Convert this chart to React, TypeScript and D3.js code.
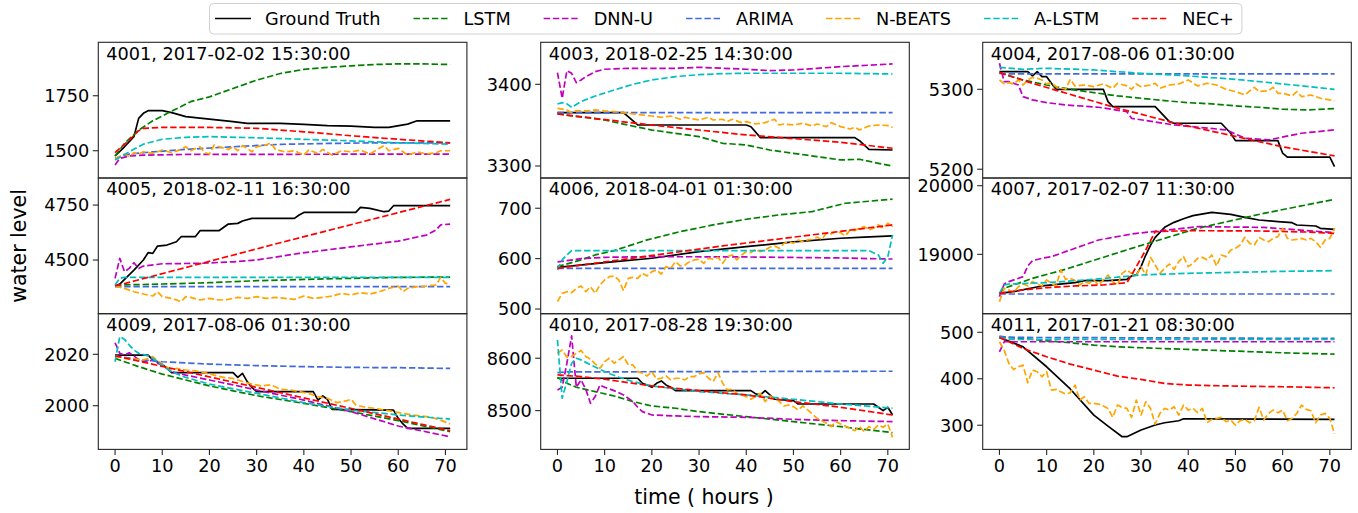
import React, { useMemo } from 'react';
import * as d3 from 'd3';

type Pt = [number, number];
type PanelData = Record<string, Pt[]>;

// x axis ticks shared by all panels (hours)
const hourTicks = [0, 10, 20, 30, 40, 50, 60, 70];

// ---- series, [hour, water level] ----
const p4001: PanelData = {
  truth: [[0, 1476], [2, 1518], [4, 1564], [5, 1647], [6, 1670], [7, 1682], [10, 1682], [12, 1673], [15, 1655], [20, 1644], [25, 1632], [28, 1624], [35, 1624], [40, 1620], [45, 1614], [50, 1612], [55, 1606], [58, 1606], [62, 1621], [64, 1636], [71, 1636]],
  lstm: [[0, 1476], [2, 1533], [5, 1594], [8, 1636], [12, 1680], [16, 1723], [20, 1745], [25, 1783], [30, 1821], [35, 1851], [40, 1870], [45, 1879], [50, 1886], [55, 1892], [60, 1895], [65, 1895], [71, 1892]],
  dnnu: [[0, 1435], [1, 1465], [3, 1476], [6, 1480], [15, 1483], [71, 1485]],
  arima: [[0, 1465], [3, 1485], [8, 1495], [15, 1506], [25, 1518], [35, 1529], [45, 1533], [55, 1536], [71, 1536]],
  nbeats: [[0, 1465], [2, 1485], [3, 1473], [4, 1491], [5, 1485], [6, 1495], [8, 1488], [10, 1503], [12, 1491], [14, 1506], [15, 1518], [16, 1500], [18, 1518], [19, 1491], [20, 1485], [21, 1526], [22, 1518], [24, 1506], [25, 1518], [26, 1500], [27, 1523], [28, 1511], [29, 1495], [30, 1518], [32, 1526], [33, 1536], [34, 1506], [36, 1495], [38, 1500], [40, 1480], [41, 1503], [43, 1488], [44, 1506], [46, 1480], [48, 1500], [50, 1495], [52, 1503], [54, 1485], [56, 1511], [57, 1523], [58, 1500], [60, 1511], [62, 1480], [64, 1495], [66, 1485], [68, 1491], [69, 1500], [71, 1500]],
  alstm: [[0, 1458], [3, 1495], [6, 1530], [10, 1552], [15, 1561], [20, 1564], [30, 1559], [40, 1552], [50, 1545], [60, 1536], [71, 1530]],
  nec: [[0, 1491], [3, 1548], [5, 1591], [6, 1602], [10, 1606], [20, 1606], [30, 1602], [40, 1586], [50, 1568], [60, 1552], [71, 1536]],
};

const p4003: PanelData = {
  truth: [[0, 3365.3], [14, 3365.3], [17, 3350.2], [40, 3350.2], [41, 3348], [43, 3334.7], [63, 3334.7], [64, 3331], [66, 3320.4], [71, 3319.6]],
  lstm: [[0, 3363.7], [10, 3356.3], [15, 3350], [20, 3344], [30, 3336], [35, 3327.8], [40, 3325.7], [45, 3319.6], [50, 3315.5], [55, 3311.5], [60, 3307.4], [64, 3308.2], [68, 3303.3], [71, 3300]],
  dnnu: [[0, 3414.3], [1, 3382.9], [2, 3416.7], [3, 3413.5], [4, 3402], [5, 3405.3], [6, 3409.4], [8, 3415.5], [10, 3418.4], [15, 3419.6], [25, 3419.6], [30, 3420.8], [40, 3418.4], [45, 3416.7], [50, 3417.5], [55, 3419.6], [60, 3421.6], [71, 3424.9]],
  arima: [[0, 3365.3], [71, 3365.3]],
  nbeats: [[0, 3370.6], [2, 3368.6], [3, 3365.3], [4, 3367.8], [6, 3367.4], [8, 3368.6], [10, 3367.4], [12, 3366.5], [14, 3365.3], [16, 3363.7], [18, 3362.5], [20, 3361.2], [22, 3359.6], [24, 3361.2], [26, 3357.2], [27, 3359.6], [28, 3358.4], [30, 3356.3], [32, 3359.6], [33, 3356.3], [35, 3357.2], [36, 3354.3], [37, 3357.2], [39, 3353.1], [40, 3354.3], [42, 3351.4], [44, 3353.1], [46, 3357.2], [47, 3350.2], [48, 3351.4], [50, 3350.2], [52, 3352.3], [54, 3349], [55, 3351.4], [57, 3348.2], [58, 3353.1], [60, 3348.2], [62, 3345.3], [63, 3347.4], [64, 3344.1], [66, 3349], [68, 3350.2], [70, 3349.4], [71, 3347.4]],
  alstm: [[0, 3375.9], [1, 3377.6], [2, 3376], [3, 3371.8], [5, 3378.8], [8, 3385.7], [12, 3393], [16, 3400], [20, 3405.3], [25, 3409.4], [30, 3411.8], [35, 3413], [40, 3413.5], [50, 3413.5], [60, 3413.5], [71, 3412.6]],
  nec: [[0, 3363.7], [20, 3350], [40, 3338], [60, 3329], [71, 3321.7]],
};

const p4004: PanelData = {
  truth: [[0, 5322], [6, 5322], [7, 5316.7], [8, 5322], [9, 5315.8], [10, 5315.8], [11, 5307.5], [12, 5300], [22, 5300], [23, 5284.6], [24, 5278.3], [33, 5278.3], [36, 5259.6], [37, 5257.5], [47, 5257.5], [49, 5245], [50, 5235.8], [59, 5235.8], [60, 5220], [61, 5215], [70, 5215], [71, 5203.3]],
  lstm: [[0, 5320.8], [5, 5311.7], [10, 5305.4], [15, 5300], [20, 5295.8], [25, 5291.7], [30, 5288.8], [35, 5285.8], [40, 5283.3], [45, 5281.7], [50, 5279.2], [55, 5277.5], [60, 5275], [65, 5274.2], [71, 5275.8]],
  dnnu: [[0, 5332.5], [1, 5309.6], [2, 5309.6], [4, 5305.4], [5, 5290.8], [7, 5286.7], [10, 5283.3], [14, 5280.4], [21, 5277.5], [27, 5272], [28, 5263.7], [37, 5255.4], [48, 5249.2], [52, 5238.8], [57, 5236.7], [64, 5245], [71, 5249.2]],
  arima: [[0, 5320], [2, 5319.2], [71, 5319.2]],
  nbeats: [[0, 5311.7], [1, 5306.7], [2, 5308.3], [3, 5306.7], [4, 5311.7], [5, 5305.4], [6, 5311.7], [7, 5315], [8, 5313.8], [9, 5311.7], [10, 5306.7], [11, 5308.3], [12, 5303.3], [14, 5300], [15, 5312.5], [16, 5304.2], [18, 5305.4], [20, 5303.3], [22, 5306.7], [24, 5301.3], [25, 5307.5], [27, 5304.2], [28, 5300], [29, 5306.7], [30, 5303.3], [32, 5305.4], [33, 5307.5], [34, 5301.3], [36, 5305.4], [38, 5306.7], [40, 5311.7], [42, 5304.2], [44, 5307.5], [46, 5305.4], [48, 5300], [50, 5297.1], [52, 5292.9], [54, 5302.5], [55, 5297.1], [57, 5298.3], [58, 5302.5], [59, 5295], [60, 5295], [62, 5291.7], [63, 5297.1], [64, 5290.8], [66, 5292.9], [68, 5288.8], [70, 5286.7], [71, 5285.8]],
  alstm: [[0, 5327.5], [5, 5325], [10, 5326.3], [20, 5324.2], [30, 5320], [40, 5316.7], [50, 5312.5], [60, 5306.7], [71, 5300]],
  nec: [[0, 5320.8], [7, 5307.5], [24, 5278], [37, 5258], [50, 5241], [60, 5228], [71, 5216.7]],
};

const p4005: PanelData = {
  truth: [[0, 4381.8], [1, 4390.9], [4, 4454.5], [6, 4500], [7, 4533.3], [8, 4530.3], [9, 4563.6], [11, 4568.2], [13, 4583.3], [14, 4606], [17, 4606], [18, 4633.3], [22, 4633.3], [24, 4663.6], [26, 4666.7], [27, 4677.3], [29, 4689.4], [38, 4689.4], [39, 4704.5], [40, 4716.6], [51, 4716.6], [52, 4739.4], [54, 4734.8], [57, 4719.7], [58, 4722.7], [59, 4747], [71, 4747]],
  lstm: [[0, 4381.8], [1, 4386.4], [10, 4391], [20, 4397], [30, 4406], [40, 4412], [50, 4416.7], [60, 4421.2], [71, 4422.7]],
  dnnu: [[0, 4416.7], [1, 4507.6], [2, 4447], [3, 4462], [4, 4488], [5, 4462], [6, 4472.7], [10, 4483], [18, 4485], [25, 4492], [30, 4500], [39, 4530], [53, 4568], [60, 4586], [66, 4613.6], [68, 4636], [69, 4660], [71, 4663.6]],
  arima: [[0, 4378.8], [71, 4378.8]],
  nbeats: [[0, 4381.8], [2, 4371], [4, 4356], [6, 4345.5], [8, 4336.4], [9, 4356], [10, 4333.3], [12, 4325.8], [14, 4310.6], [15, 4333.3], [16, 4330.3], [18, 4318.2], [20, 4325.8], [22, 4318.2], [24, 4321.2], [26, 4330.3], [28, 4325.8], [30, 4333.3], [32, 4325.8], [34, 4330.3], [36, 4325.8], [38, 4321.2], [40, 4336.4], [42, 4325.8], [44, 4330.3], [46, 4336.4], [48, 4348.5], [50, 4341], [52, 4351.5], [54, 4345.5], [56, 4356], [58, 4371], [60, 4381.8], [61, 4356], [62, 4371], [64, 4378.8], [66, 4381.8], [68, 4386.4], [69, 4421.2], [70, 4393.9], [71, 4390.9]],
  alstm: [[0, 4386.4], [1, 4416.7], [2, 4421.2], [71, 4421.2]],
  nec: [[0, 4381.8], [35, 4578.7], [71, 4775.7]],
};

const p4006: PanelData = {
  truth: [[0, 582.8], [10, 592], [20, 600.7], [30, 614], [40, 623.8], [50, 633.1], [60, 640.4], [65, 642.6], [71, 645]],
  lstm: [[0, 584.1], [5, 597.4], [8, 607.3], [12, 615.9], [19, 637.1], [26, 653.6], [33, 666.9], [40, 678.2], [47, 686.8], [54, 693.4], [61, 709.9], [71, 717.9]],
  dnnu: [[0, 593.4], [2, 596], [5, 600], [10, 602.6], [20, 604], [40, 603.3], [60, 601.3], [70, 599.3], [71, 599.3]],
  arima: [[0, 580.8], [71, 580.8]],
  nbeats: [[0, 514.6], [1, 531.1], [2, 534.4], [3, 532.4], [4, 541.1], [5, 545.7], [6, 534.4], [7, 544.4], [8, 531.1], [9, 547.7], [10, 557.6], [11, 564.2], [12, 565.6], [13, 557.6], [14, 536.4], [15, 560.9], [16, 562.9], [17, 560.9], [18, 570.9], [19, 565.6], [20, 574.2], [21, 577.5], [22, 569.5], [23, 584.1], [24, 580.8], [25, 594], [26, 585.4], [27, 587.4], [28, 594], [29, 597.4], [30, 598.7], [31, 590.7], [32, 600.7], [33, 598.7], [34, 602.6], [35, 590.7], [36, 604], [37, 607.3], [38, 597.4], [39, 607.3], [40, 613.9], [41, 611.9], [42, 618.5], [43, 613.9], [44, 617.2], [45, 622.5], [46, 625.2], [47, 620.5], [48, 630.5], [49, 633.8], [50, 630.5], [51, 637.1], [52, 633.8], [53, 637.1], [54, 638.4], [55, 642.4], [56, 638.4], [57, 650.3], [58, 649], [59, 653.6], [60, 651.7], [61, 645], [62, 657], [63, 655.6], [64, 660.3], [65, 663.6], [66, 657], [67, 660.3], [68, 666.9], [69, 660.3], [70, 670.2], [71, 663.6]],
  alstm: [[0, 577.5], [1, 597.4], [2, 607.3], [3, 615.9], [66, 615.9], [68, 607.3], [69, 590.7], [70, 603.9], [71, 647]],
  nec: [[0, 580.8], [35, 625.2], [71, 666.9]],
};

const p4007: PanelData = {
  truth: [[0, 18432], [3, 18456], [9, 18539], [16, 18587], [18, 18617], [23, 18617], [27, 18636], [28, 18684], [29, 18700], [30, 18820], [31, 18990], [32, 19130], [33, 19248], [35, 19393], [37, 19466], [39, 19519], [41, 19563], [45, 19612], [47, 19597], [49, 19582], [52, 19539], [55, 19500], [59, 19476], [62, 19461], [63, 19427], [67, 19413], [68, 19379], [71, 19364]],
  lstm: [[0, 18432], [1, 18505], [7, 18650], [14, 18782], [28, 19087], [42, 19379], [56, 19597], [71, 19801]],
  dnnu: [[0, 18384], [1, 18568], [2, 18602], [5, 18675], [6, 18830], [7, 18908], [9, 18942], [11, 18966], [21, 19209], [28, 19296], [42, 19403], [56, 19393], [71, 19316]],
  arima: [[0, 18422], [71, 18422]],
  nbeats: [[0, 18311], [1, 18505], [2, 18481], [3, 18442], [4, 18529], [5, 18568], [6, 18539], [7, 18602], [8, 18568], [9, 18539], [10, 18626], [11, 18578], [12, 18539], [13, 18772], [14, 18636], [15, 18650], [16, 18617], [17, 18553], [18, 18602], [19, 18578], [20, 18626], [21, 18553], [22, 18626], [23, 18699], [24, 18602], [25, 18553], [26, 18723], [27, 18772], [28, 18723], [29, 18699], [30, 18820], [31, 18699], [32, 18956], [33, 18845], [34, 18723], [35, 18796], [36, 18859], [37, 18782], [38, 18893], [39, 18966], [40, 18820], [41, 18869], [42, 18942], [43, 18956], [44, 18917], [45, 18990], [46, 18830], [47, 18990], [48, 18966], [49, 19063], [50, 19087], [51, 19136], [52, 19248], [53, 19160], [54, 19136], [55, 19248], [56, 19209], [57, 19184], [58, 19233], [59, 19257], [60, 19379], [61, 19233], [62, 19209], [63, 19218], [64, 19233], [65, 19209], [66, 19233], [67, 19184], [68, 19102], [69, 19209], [70, 19233], [71, 19379]],
  alstm: [[0, 18432], [1, 18553], [2, 18568], [10, 18587], [20, 18636], [30, 18699], [40, 18723], [50, 18738], [60, 18752], [71, 18762]],
  nec: [[0, 18432], [5, 18481], [10, 18515], [16, 18539], [22, 18553], [27, 18587], [28, 18699], [31, 19063], [33, 19330], [40, 19345], [55, 19340], [65, 19325], [71, 19306]],
};

const p4009: PanelData = {
  truth: [[0, 2019.7], [7, 2019.7], [8, 2017.8], [10, 2016.2], [12, 2012.9], [25, 2012.9], [26, 2011], [27, 2012.6], [28, 2009.4], [29, 2007.1], [30, 2005.5], [42, 2005.5], [43, 2002.2], [44, 2003.8], [45, 2002.5], [46, 1998.6], [59, 1998.3], [60, 1995.1], [61, 1992.9], [62, 1991.2], [71, 1991.2]],
  lstm: [[0, 2018.4], [5, 2015.2], [10, 2012.3], [15, 2010], [20, 2007.7], [25, 2005.8], [30, 2003.9], [40, 2000.9], [50, 1997.7], [60, 1994.2], [71, 1989.9]],
  dnnu: [[0, 2024.5], [1, 2020.4], [2, 2019.7], [3, 2020.6], [4, 2019.4], [5, 2017.8], [7, 2016.8], [8, 2018.1], [9, 2016.5], [10, 2015.8], [12, 2013.2], [15, 2011.9], [20, 2010], [25, 2008.1], [30, 2006.1], [40, 2002.2], [50, 1997.7], [60, 1992.1], [71, 1987.9]],
  arima: [[0, 2019.4], [5, 2018], [10, 2017.1], [20, 2016.2], [30, 2015.6], [40, 2015.2], [50, 2014.9], [60, 2014.8], [71, 2014.5]],
  nbeats: [[0, 2019.4], [2, 2018.4], [4, 2018.1], [6, 2017.8], [8, 2019.1], [9, 2017.5], [10, 2016.2], [12, 2013.9], [13, 2014.5], [15, 2013.9], [17, 2013.6], [19, 2012.9], [21, 2011.9], [23, 2011], [25, 2010.6], [27, 2009.4], [29, 2008.4], [31, 2007.7], [33, 2008.1], [35, 2006.4], [37, 2006.1], [39, 2005.5], [41, 2004.8], [43, 2003.5], [45, 2002.9], [47, 2001.2], [49, 2001.9], [50, 2002.5], [51, 2000.3], [53, 1999.4], [55, 1999], [57, 1998.3], [59, 1997.7], [61, 1997], [63, 1996.4], [65, 1996], [67, 1995.5], [69, 1994.4], [71, 1992.9]],
  alstm: [[0, 2017.1], [1, 2026.9], [2, 2025.8], [3, 2023.6], [4, 2021.7], [5, 2020.4], [7, 2019.4], [8, 2018.4], [10, 2015.8], [12, 2013.2], [15, 2011], [20, 2008.4], [30, 2004.8], [40, 2001.2], [50, 1998.3], [60, 1996.4], [71, 1994.8]],
  nec: [[0, 2019.4], [35, 2005.1], [71, 1990.3]],
};

const p4010: PanelData = {
  truth: [[0, 8561.8], [17, 8561.8], [18, 8552.2], [19, 8549], [20, 8544.6], [21, 8552.2], [22, 8556.7], [23, 8549], [24, 8544.6], [25, 8538.2], [41, 8538.2], [42, 8531.9], [43, 8529.9], [44, 8538.2], [45, 8529.9], [46, 8521.7], [50, 8519], [51, 8512.7], [67, 8512.7], [68, 8506.4], [69, 8500], [70, 8506.4], [71, 8491.7]],
  lstm: [[0, 8563.7], [2, 8552.2], [4, 8544.6], [8, 8536.3], [12, 8528], [16, 8517.2], [20, 8508.9], [25, 8504.5], [30, 8498.1], [40, 8488.5], [50, 8479], [60, 8469.4], [71, 8458]],
  dnnu: [[0, 8539.5], [1, 8544.6], [2, 8590.5], [3, 8642.7], [4, 8544.6], [5, 8558.6], [6, 8540.8], [7, 8514], [8, 8526.8], [9, 8549], [10, 8544.6], [12, 8538.2], [14, 8529.9], [16, 8517.2], [17, 8506.4], [18, 8498.1], [20, 8491.7], [25, 8489.8], [30, 8488.5], [40, 8487.3], [50, 8483.4], [60, 8480.9], [71, 8479]],
  arima: [[0, 8572.6], [2, 8573.9], [71, 8575.2]],
  nbeats: [[0, 8609.6], [1, 8615.9], [2, 8601.9], [3, 8603.2], [4, 8609.6], [5, 8614.7], [6, 8603.2], [7, 8598.1], [8, 8589.2], [9, 8580.9], [10, 8593.6], [11, 8600], [12, 8590.5], [13, 8596.8], [14, 8603.2], [15, 8587.3], [16, 8587.3], [17, 8574.5], [18, 8571.3], [19, 8566.2], [20, 8574.5], [21, 8559.9], [22, 8561.8], [23, 8566.2], [24, 8558.6], [25, 8561.8], [26, 8561.8], [27, 8558.6], [28, 8565], [29, 8565], [30, 8570.1], [31, 8572.6], [32, 8561.8], [33, 8555.4], [34, 8572.6], [35, 8552.2], [36, 8539.5], [37, 8540.8], [38, 8533.1], [39, 8529.9], [40, 8526.8], [41, 8521.7], [42, 8526.8], [43, 8533.1], [44, 8517.2], [45, 8528], [46, 8523.6], [47, 8517.2], [48, 8508.9], [49, 8510.8], [50, 8507.6], [51, 8501.3], [52, 8508.9], [53, 8501.3], [54, 8493.6], [55, 8485.3], [56, 8480.9], [57, 8475.8], [58, 8469.4], [59, 8479], [60, 8474.5], [61, 8470.7], [62, 8466.2], [63, 8461.8], [64, 8469.4], [65, 8459.9], [66, 8469.4], [67, 8464.3], [68, 8472.6], [69, 8468.2], [70, 8474.5], [71, 8449]],
  alstm: [[0, 8635], [1, 8523.6], [2, 8555.4], [3, 8590.5], [4, 8600], [5, 8596.8], [7, 8587.3], [10, 8574.5], [13, 8563.7], [16, 8555.4], [20, 8547.1], [30, 8536.3], [40, 8529.9], [50, 8521.7], [60, 8512.7], [71, 8504.5]],
  nec: [[0, 8568.2], [5, 8565], [10, 8559.9], [20, 8547.1], [30, 8538.2], [40, 8529.9], [50, 8517.2], [60, 8506.4], [71, 8491.7]],
};

const p4011: PanelData = {
  truth: [[0, 488.9], [5, 468.8], [10, 425.8], [15, 378], [20, 321.9], [23, 298.2], [26, 275.3], [27, 275.3], [30, 289.6], [33, 300.4], [35, 305.4], [38, 309.7], [39, 314], [71, 312.5]],
  lstm: [[0, 490.3], [5, 486.7], [10, 481.7], [15, 477.4], [20, 472.4], [25, 468.8], [30, 466.7], [40, 463.1], [50, 459.5], [60, 455.9], [71, 453]],
  dnnu: [[0, 458], [1, 479.6], [71, 479.6]],
  arima: [[0, 491.7], [2, 489], [71, 486.7]],
  nbeats: [[0, 479.6], [1, 461.6], [2, 433], [3, 420.1], [4, 425.8], [5, 429.4], [6, 391.4], [7, 418.6], [8, 415.1], [9, 404.3], [10, 415.1], [11, 375.6], [12, 377.1], [13, 372], [14, 367], [15, 369.9], [16, 386.4], [17, 354.1], [18, 361.3], [19, 347], [20, 347], [21, 345.5], [22, 341.2], [23, 336.2], [24, 316.9], [25, 343.4], [26, 338.4], [27, 336.2], [28, 316.9], [29, 354.1], [30, 321.9], [31, 350.5], [32, 336.2], [33, 302.5], [34, 325.5], [35, 336.2], [36, 332.6], [37, 339.8], [38, 321.9], [39, 343.4], [40, 332.6], [41, 336.2], [42, 326.9], [43, 336.2], [44, 305.4], [45, 312.5], [46, 314.7], [47, 316.9], [48, 307.5], [49, 311.1], [50, 300.4], [51, 309.7], [52, 312.5], [53, 305.4], [54, 309.7], [55, 338.4], [56, 311.1], [57, 325.5], [58, 332.6], [59, 326.9], [60, 332.6], [61, 309.7], [62, 314.7], [63, 325.5], [64, 343.4], [65, 334.1], [66, 331.2], [67, 305.4], [68, 321.9], [69, 325.5], [70, 314.7], [71, 281]],
  alstm: [[0, 488.9], [2, 484.6], [71, 484.6]],
  nec: [[0, 488.9], [2, 479.6], [5, 465.2], [10, 447.3], [15, 431.5], [20, 418.6], [25, 405.7], [30, 398.6], [35, 390], [40, 386.4], [50, 384.2], [60, 382.8], [71, 380.6]],
};

// panel titles, y limits and y ticks (row-major, 3 columns)
const panels = [
  { title: '4001, 2017-02-02 15:30:00', yDomain: [1376, 1993], yTicks: [1500, 1750], data: p4001 },
  { title: '4003, 2018-02-25 14:30:00', yDomain: [3285.3, 3451.4], yTicks: [3300, 3400], data: p4003 },
  { title: '4004, 2017-08-06 01:30:00', yDomain: [5189, 5358.8], yTicks: [5200, 5300], data: p4004 },
  { title: '4005, 2018-02-11 16:30:00', yDomain: [4256, 4873], yTicks: [4500, 4750], data: p4005 },
  { title: '4006, 2018-04-01 01:30:00', yDomain: [490.7, 760], yTicks: [500, 600, 700], data: p4006 },
  { title: '4007, 2017-02-07 11:30:00', yDomain: [18135, 20112], yTicks: [19000, 20000], data: p4007 },
  { title: '4009, 2017-08-06 01:30:00', yDomain: [1983, 2035.8], yTicks: [2000, 2020], data: p4009 },
  { title: '4010, 2017-08-28 19:30:00', yDomain: [8426, 8685], yTicks: [8500, 8600], data: p4010 },
  { title: '4011, 2017-01-21 08:30:00', yDomain: [248, 540], yTicks: [300, 400, 500], data: p4011 },
];

// series order = drawing order = legend order
const series = [
  { key: 'truth', name: 'Ground Truth', color: '#000000', dashed: false },
  { key: 'lstm', name: 'LSTM', color: '#008000', dashed: true },
  { key: 'dnnu', name: 'DNN-U', color: '#bf00bf', dashed: true },
  { key: 'arima', name: 'ARIMA', color: '#4169e1', dashed: true },
  { key: 'nbeats', name: 'N-BEATS', color: '#ffa500', dashed: true },
  { key: 'alstm', name: 'A-LSTM', color: '#00bfbf', dashed: true },
  { key: 'nec', name: 'NEC+', color: '#ff0000', dashed: true },
];

const W = 1358;
const H = 513;
const FONT = '"DejaVu Sans", "Liberation Sans", sans-serif';
const FS = 17.7; // tick / title / legend font size
const colLeft = [98.3, 540.7, 982.7];
const panelW = 368.6;
const gridTop = 42.3;
const panelH = 135.7;
const dash = '6.4,2.8';

const measureText = (text: string, size: number) => {
  const ctx = document.createElement('canvas').getContext('2d');
  if (!ctx) return text.length * size * 0.6;
  ctx.font = `${size}px "DejaVu Sans"`;
  return ctx.measureText(text).width;
};

const App: React.FC = () => {
  // legend item positions from text widths
  const legend = useMemo(() => {
    let x = 215;
    const items = series.map((s) => {
      const w = measureText(s.name, FS);
      const item = { ...s, x, tx: x + 50, w };
      x = x + 50 + w + 33;
      return item;
    });
    const last = items[items.length - 1];
    return { items, right: last.tx + last.w + 8 };
  }, []);

  return (
    <svg
      width={W}
      height={H}
      style={{ position: 'absolute', left: 0, top: 0, background: '#fff' }}
      fontFamily={FONT}
    >
      <defs>
        {panels.map((p, i) => (
          <clipPath id={`clip${i}`} key={p.title}>
            <rect
              x={colLeft[i % 3]}
              y={gridTop + Math.floor(i / 3) * panelH}
              width={panelW}
              height={panelH}
            />
          </clipPath>
        ))}
      </defs>

      {panels.map((p, i) => {
        const col = i % 3;
        const row = Math.floor(i / 3);
        const left = colLeft[col];
        const top = gridTop + row * panelH;
        const x = d3.scaleLinear().domain([-3.55, 74.55]).range([left, left + panelW]);
        const y = d3.scaleLinear().domain(p.yDomain).range([top + panelH, top]);
        const line = d3.line<Pt>().x((d) => x(d[0])).y((d) => y(d[1]));
        return (
          <g key={p.title}>
            <g clipPath={`url(#clip${i})`}>
              {series.map((s) => (
                <path
                  key={s.key}
                  d={line(p.data[s.key]) ?? ''}
                  fill="none"
                  stroke={s.color}
                  strokeWidth={1.7}
                  strokeDasharray={s.dashed ? dash : undefined}
                  strokeLinejoin="round"
                />
              ))}
            </g>
            <rect x={left} y={top} width={panelW} height={panelH} fill="none" stroke="#262626" strokeWidth={1.1} />
            <text x={left + 8} y={top + 17.3} fontSize={FS} fill="#000">{p.title}</text>
            {p.yTicks.map((t) => (
              <g key={t}>
                <line x1={left - 5.5} x2={left} y1={y(t)} y2={y(t)} stroke="#262626" strokeWidth={1.1} />
                <text x={left - 9} y={y(t)} dy="0.36em" textAnchor="end" fontSize={FS}>{t}</text>
              </g>
            ))}
            {row === 2 && hourTicks.map((t) => (
              <g key={t}>
                <line x1={x(t)} x2={x(t)} y1={top + panelH} y2={top + panelH + 5.5} stroke="#262626" strokeWidth={1.1} />
                <text x={x(t)} y={top + panelH + 22.5} textAnchor="middle" fontSize={FS}>{t}</text>
              </g>
            ))}
          </g>
        );
      })}

      {/* axis titles */}
      <text x={25.5} y={246} transform="rotate(-90 25.5 246)" textAnchor="middle" fontSize={20.5}>water level</text>
      <text x={704} y={504} textAnchor="middle" fontSize={20.5}>time ( hours )</text>

      {/* legend */}
      <rect
        x={209.5}
        y={3.5}
        width={legend.right - 209.5}
        height={30.5}
        rx={4}
        fill="#fff"
        fillOpacity={0.8}
        stroke="#d0d0d0"
        strokeWidth={1}
      />
      {legend.items.map((s) => (
        <g key={s.key}>
          <line
            x1={s.x}
            x2={s.x + 36}
            y1={18.5}
            y2={18.5}
            stroke={s.color}
            strokeWidth={1.7}
            strokeDasharray={s.dashed ? dash : undefined}
          />
          <text x={s.tx} y={24.8} fontSize={FS}>{s.name}</text>
        </g>
      ))}
    </svg>
  );
};

export default App;
